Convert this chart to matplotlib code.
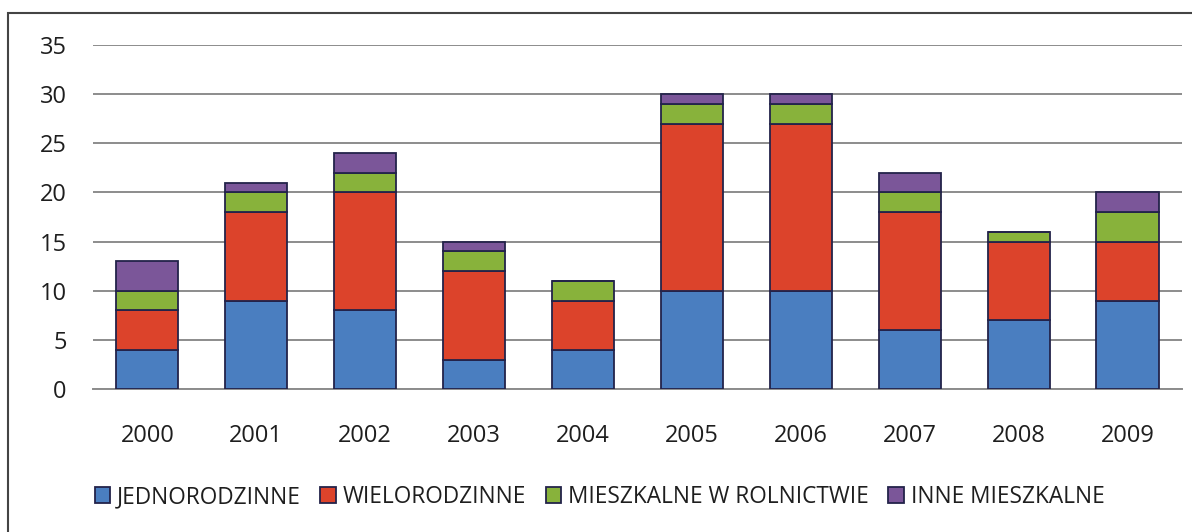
import matplotlib.pyplot as plt
from matplotlib.patches import Rectangle

# data
years = ["2000", "2001", "2002", "2003", "2004", "2005", "2006", "2007", "2008", "2009"]
jednorodzinne = [4, 9, 8, 3, 4, 10, 10, 6, 7, 9]
wielorodzinne = [4, 9, 12, 9, 5, 17, 17, 12, 8, 6]
rolnictwo = [2, 2, 2, 2, 2, 2, 2, 2, 1, 3]
inne = [3, 1, 2, 1, 0, 1, 1, 2, 0, 2]

series = [
    ("JEDNORODZINNE", jednorodzinne, "#4a7ec0"),
    ("WIELORODZINNE", wielorodzinne, "#dc432b"),
    ("MIESZKALNE W ROLNICTWIE", rolnictwo, "#88b23b"),
    ("INNE MIESZKALNE", inne, "#7b5699"),
]

plt.rcParams['font.family'] = ['Open Sans', 'DejaVu Sans']

fig = plt.figure(figsize=(11.92, 5.32), dpi=100)
ax = fig.add_axes([0.078, 0.2688, 0.9136, 0.6466])

x = list(range(len(years)))
bottom = [0] * len(years)
handles = []
for name, vals, color in series:
    b = ax.bar(x, vals, 0.57, bottom=bottom, color=color, edgecolor="#23234a",
               linewidth=1.3, label=name, zorder=3)
    handles.append(b)
    bottom = [a + v for a, v in zip(bottom, vals)]

ax.set_xlim(-0.5, 9.5)
ax.set_ylim(0, 35)
ax.set_yticks(range(0, 36, 5))
ax.set_xticks(x)
ax.set_xticklabels(years)
ax.grid(axis="y", color="#8c8c8c", linewidth=1.4, zorder=0)
ax.tick_params(length=0, labelsize=17, colors="#1e1e1e")
ax.tick_params(axis="x", pad=25)
ax.tick_params(axis="y", pad=19)
for s in ["top", "right", "left"]:
    ax.spines[s].set_visible(False)
ax.spines["bottom"].set_color("#8c8c8c")
ax.spines["bottom"].set_linewidth(1.4)

fig.legend(handles=handles, loc="center", bbox_to_anchor=(0.503, 0.066), ncol=4,
           frameon=False, fontsize=16.3, handlelength=0.7, handleheight=0.7,
           handletextpad=0.3, columnspacing=0.85, labelcolor="#1e1e1e")

# outer frame (clipped by the page on right and bottom)
fig.patches.append(Rectangle((8 / 1192, -0.1), 1.2, 1 - 13 / 532 + 0.1,
                             transform=fig.transFigure, fill=False,
                             edgecolor="#444444", linewidth=1.5))

fig.savefig("out.png", dpi=100)
